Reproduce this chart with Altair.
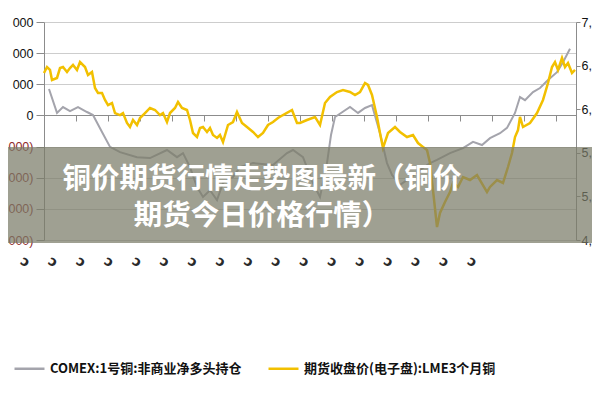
import altair as alt
import pandas as pd

# ---- data ----
# COMEX copper non-commercial net long (left axis), x in weeks
gray_week = [1.25, 3.25, 4.75, 6.5, 8.5, 10.75, 12.25, 14.5, 16.5, 19, 23.25, 26.5, 30.75, 33.25,
             34.75, 36.5, 38.25, 39.75, 41.5, 43.25, 44.75, 47.25, 49, 52.25, 57.25, 60.75, 62.25,
             64.75, 67.25, 69, 70.75, 71.75, 72.75, 76.5, 78.5, 80.25, 82, 84, 85.75, 87, 89, 91.5,
             94, 96.5, 98.25, 101.5, 104.75, 107.25, 109.5, 111.5, 114, 115.75, 117.75, 119,
             120.25, 122.25, 124, 126, 128.25, 129.75, 131.5]
gray_val = [8500, 800, 2700, 1400, 2700, 1100, 100, -5300, -10100, -11800, -13400, -13700, -11100,
            -13400, -12100, -16600, -23000, -26200, -24000, -27200, -21700, -19800, -16600, -15300,
            -15900, -12100, -11100, -13400, -21700, -26200, -15300, -6300, -500, 2700, 800, 2400,
            3300, -5700, -15300, -19100, -22300, -20100, -17500, -15300, -14300, -12100, -10500,
            -8500, -9500, -7300, -5700, -4000, 800, 5900, 4900, 7500, 8800, 11400, 13900, 17100, 21400]

# LME 3-month copper close (right axis)
yellow_week = [0, 0.75, 1.5, 2, 3.25, 4, 4.75, 5.75, 6.5, 7.25, 8.25, 9, 10.25, 11, 12, 12.75, 13.5,
               14.5, 15.25, 16, 17, 17.75, 19, 19.75, 20.75, 21.5, 22.25, 23.25, 24, 25.25, 26.5,
               27.75, 29, 29.75, 30.75, 31.5, 32.75, 33.5, 34.5, 35.75, 36.5, 37.25, 38.25, 39,
               39.75, 40.75, 41.5, 42.25, 43.25, 44, 44.75, 46, 47.25, 48.25, 49.5, 50.75, 52.25,
               53.5, 54.75, 56, 57.25, 58.5, 59.75, 62, 63.25, 64, 65.75, 67.75, 69, 70.25, 71.5,
               73.25, 74.75, 76.5, 77.75, 79, 80.25, 81, 82, 83.25, 84, 84.75, 86, 87.75, 89, 90.75,
               92.25, 93.5, 94.75, 95.75, 96.5, 97.25, 98.25, 99, 100.25, 101.5, 102.25, 103.5,
               104.75, 106.5, 108.25, 110.75, 111.5, 113.25, 114.75, 116, 117, 117.75, 118.5, 119,
               119.75, 121.5, 123.25, 124.75, 126, 127, 127.75, 128.5, 129.5, 130.25, 131, 132, 132.75]
yellow_val = [6415, 6484, 6450, 6335, 6358, 6472, 6484, 6427, 6472, 6507, 6450, 6541, 6484, 6392,
              6427, 6243, 6186, 6186, 6106, 6048, 6071, 5956, 5933, 5956, 5842, 5796, 5876, 5819,
              5899, 5956, 6014, 5991, 5933, 5956, 5853, 5956, 6014, 6083, 6014, 5991, 5876, 5727,
              5681, 5784, 5796, 5739, 5784, 5704, 5670, 5704, 5624, 5819, 5853, 5968, 5842, 5796,
              5739, 5681, 5727, 5819, 5853, 5899, 5933, 5991, 5842, 5842, 5876, 5911, 5819, 6071,
              6140, 6197, 6220, 6197, 6163, 6197, 6300, 6278, 6163, 5911, 5727, 5555, 5727, 5796,
              5739, 5681, 5704, 5612, 5567, 5532, 5383, 5073, 4649, 4810, 4936, 5050, 5154, 5108,
              5222, 5188, 5245, 5050, 5108, 5188, 5154, 5337, 5498, 5681, 5761, 5911, 5796, 5842,
              5956, 6106, 6300, 6484, 6541, 6450, 6587, 6484, 6530, 6415, 6450]

gray_name = "COMEX:1号铜:非商业净多头持仓"
yellow_name = "期货收盘价(电子盘):LME3个月铜"
left_ticks = [30000, 20000, 10000, 0, -10000, -20000, -30000, -40000]
right_ticks = [7000, 6500, 6000, 5500, 5000, 4500]
x_ticks = [8, 16, 24, 32, 40, 48, 56, 64, 72, 80, 88, 96, 104, 112, 120, 128]
x_label_idx = list(range(17))
x_label_text = ["ↄ"] * 17
title_lines = ["铜价期货行情走势图最新（铜价", "期货今日价格行情）"]

gray_df = pd.DataFrame({"week": gray_week, "val": gray_val})
yellow_df = pd.DataFrame({"week": yellow_week, "val": yellow_val})
xlab_df = pd.DataFrame({"i": x_label_idx, "t": x_label_text})
title_df = pd.DataFrame({"line": [0, 1], "t": title_lines})

W, H = 532, 218
color_scale = alt.Scale(domain=[gray_name, yellow_name], range=["#a4a4ac", "#f2c000"])

gray = alt.Chart(gray_df).mark_line(strokeWidth=2).encode(
    x=alt.X("week:Q", scale=alt.Scale(domain=[0, 133], nice=False, zero=False),
            axis=alt.Axis(values=x_ticks, labels=False, title=None, grid=False, offset=-125,
                          domainColor="#8c8c8c", tickColor="#8c8c8c", tickSize=6, orient="bottom")),
    y=alt.Y("val:Q", scale=alt.Scale(domain=[-40000, 30000], nice=False),
            axis=alt.Axis(values=left_ticks, title=None, grid=True, gridColor="#cdcdcd",
                          domainColor="#8c8c8c", tickColor="#8c8c8c", tickSize=8, labelPadding=3,
                          labelFont="Liberation Sans", labelFontSize=12.5,
                          labelExpr="datum.value == 0 ? '0' : (datum.value < 0 ? '000)' : '000')",
                          labelColor={"expr": "datum.value < 0 ? '#8e2a2a' : '#111111'"})),
    color=alt.Color("s:N", scale=color_scale,
                    legend=alt.Legend(orient="none", legendX=-31, legendY=330, direction="horizontal",
                                      title=None, symbolType="stroke", symbolSize=900,
                                      symbolStrokeWidth=2.5, labelFont="Noto Sans CJK SC",
                                      labelFontWeight="bold", labelFontSize=13, labelColor="#111111",
                                      labelLimit=400, columnPadding=21, labelOffset=4)),
).transform_calculate(s=f"'{gray_name}'")

yellow = alt.Chart(yellow_df).mark_line(strokeWidth=2.5).encode(
    x=alt.X("week:Q", scale=alt.Scale(domain=[0, 133], nice=False, zero=False), axis=None),
    y=alt.Y("val:Q", scale=alt.Scale(domain=[4500, 7000], nice=False, zero=False),
            axis=alt.Axis(orient="right", values=right_ticks, title=None, grid=False,
                          domainColor="#8c8c8c", tickColor="#8c8c8c", tickSize=4, labelPadding=1,
                          labelFont="Liberation Sans", labelFontSize=12.5, labelColor="#111111",
                          labelExpr="floor(datum.value / 1000) + ','")),
    color=alt.Color("s:N", scale=color_scale),
).transform_calculate(s=f"'{yellow_name}'")

xlabels = alt.Chart(xlab_df).mark_text(font="DejaVu Sans", fontSize=14, fontWeight="bold",
                                       color="#2a2a2a", angle=30).encode(
    x=alt.X("i:Q", scale=alt.Scale(domain=[0.68, 19.72], nice=False, zero=False), axis=None),
    y=alt.value(240),
    text="t:N",
)

band = alt.Chart(title_df).mark_rect(color="#7a7c68", opacity=0.72).encode(
    x=alt.value(-44), x2=alt.value(560), y=alt.value(125), y2=alt.value(221)
).transform_filter("datum.line == 0")

title = alt.Chart(title_df).mark_text(font="Noto Sans CJK SC", fontWeight="bold", fontSize=28.5,
                                      color="white", align="center", baseline="middle").encode(
    x=alt.value(218),
    y=alt.Y("line:Q", scale=alt.Scale(domain=[0, 1], range=[156.5, 193.5]), axis=None),
    text="t:N",
)

chart = alt.layer(gray, yellow, xlabels, band, title).resolve_scale(
    x="independent", y="independent"
).properties(
    width=W, height=H,
    autosize=alt.AutoSizeParams(type="none"),
    padding={"left": 36, "top": 14, "right": 16, "bottom": 152},
).configure_view(stroke=None)

chart.save("out.html", embed_options={"renderer": "svg", "actions": False})
